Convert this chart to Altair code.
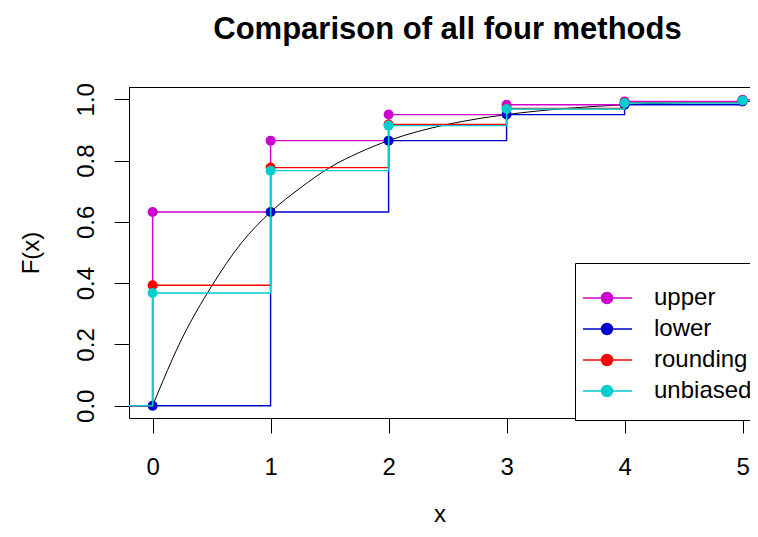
import altair as alt
import pandas as pd

# Discretization knots and cumulative probabilities
knots = [0, 1, 2, 3, 4, 5]
upper = [0.632, 0.865, 0.950, 0.982, 0.993, 0.998]
lower = [0.0, 0.632, 0.865, 0.950, 0.982, 0.993]
rounding = [0.393, 0.777, 0.918, 0.970, 0.989, 0.996]
unbiased = [0.368, 0.767, 0.914, 0.968, 0.988, 0.996]

methods = ["upper", "lower", "rounding", "unbiased"]
colors = ["#CD00CD", "#0000CD", "#FF0000", "#00CDCD"]

# Continuous CDF curve
curve_x = [0, 0.25, 0.5, 0.75, 1, 1.25, 1.5, 1.75, 2, 2.25, 2.5, 2.75, 3, 3.5, 4, 4.5, 5]
curve_y = [0, 0.22, 0.39, 0.53, 0.632, 0.71, 0.777, 0.826, 0.865, 0.895, 0.918, 0.936, 0.95, 0.97, 0.982, 0.989, 0.993]

series = {"upper": upper, "lower": lower, "rounding": rounding, "unbiased": unbiased}

FONT = "Liberation Sans"
W, H = 621, 331

xscale = alt.Scale(domain=[-0.2, 5.063], nice=False, zero=False)
yscale = alt.Scale(domain=[-0.04, 1.04], nice=False, zero=False)
cscale = alt.Scale(domain=methods, range=colors)

xaxis = alt.Axis(values=knots, format="d", title="x", labelBaseline="alphabetic",
                 labelPadding=41, titleBaseline="alphabetic", titleY=103,
                 titleFontWeight="normal")
yaxis = alt.Axis(values=[0, 0.2, 0.4, 0.6, 0.8, 1.0], format=".1f", title="F(x)",
                 labelAngle=270, labelAlign="center", labelBaseline="alphabetic",
                 labelPadding=21, titleAngle=270, titleX=-91, titleY=165.5,
                 titleAlign="center", titleBaseline="alphabetic", titleFontWeight="normal")

sym_path = ("M -1.714 0 L 1.786 0 M -0.393 0 A 0.393 0.393 0 1 0 0.393 0 "
            "A 0.393 0.393 0 1 0 -0.393 0 Z")
legend = alt.Legend(title=" ", orient="none", legendX=446, legendY=176,
                    symbolType=sym_path, symbolSize=784, symbolStrokeWidth=1.5,
                    symbolOpacity=1, labelFontSize=24, labelFont=FONT, labelColor="black",
                    labelOffset=32, rowPadding=4, padding=17, titleFontSize=2, titlePadding=1,
                    strokeColor="black", fillColor="white")

curve_df = pd.DataFrame({"x": curve_x, "F": curve_y})
curve = alt.Chart(curve_df).mark_line(color="black", strokeWidth=1, interpolate="monotone", clip=True).encode(
    x=alt.X("x:Q", scale=xscale, axis=xaxis),
    y=alt.Y("F:Q", scale=yscale, axis=yaxis),
)

# top edge of the plot frame (the right edge lies beyond the picture in the reference)
frame_top = alt.Chart(pd.DataFrame({"k": [0]})).mark_rule(color="black", strokeWidth=1).encode(
    x=alt.value(0), x2=alt.value(W), y=alt.value(0.5)
)

layers = [curve]
for m in methods:
    vals = series[m]
    line_df = pd.DataFrame({
        "x": [-1] + knots + [6],
        "F": [0.0] + vals + [vals[-1]],
        "method": m,
    })
    pt_df = pd.DataFrame({"x": knots, "F": vals, "method": m})
    ln = alt.Chart(line_df).mark_line(interpolate="step-after", strokeWidth=1.4, clip=True).encode(
        x=alt.X("x:Q", scale=xscale, axis=xaxis),
        y=alt.Y("F:Q", scale=yscale, axis=yaxis),
        color=alt.Color("method:N", scale=cscale, legend=legend),
    )
    pt = alt.Chart(pt_df).mark_point(filled=True, size=100, opacity=1, clip=True).encode(
        x=alt.X("x:Q", scale=xscale, axis=xaxis),
        y=alt.Y("F:Q", scale=yscale, axis=yaxis),
        color=alt.Color("method:N", scale=cscale, legend=legend),
    )
    layers += [ln, pt]
layers.append(frame_top)

chart = alt.layer(*layers).properties(
    width=W, height=H,
    autosize="none",
    padding={"left": 121, "top": 79, "right": 0, "bottom": 107},
    title=alt.TitleParams("Comparison of all four methods", fontSize=31, font=FONT,
                          fontWeight="bold", anchor="middle", baseline="alphabetic",
                          offset=13, dx=8, color="black"),
).configure_view(stroke=None).configure_axis(
    grid=False, domainColor="black", tickColor="black", labelColor="black", titleColor="black",
    tickSize=15, labelFont=FONT, titleFont=FONT, labelFontSize=24, titleFontSize=24,
    domainWidth=1, tickWidth=1,
)

chart.save("out.html", embed_options={"renderer": "svg", "actions": False})
